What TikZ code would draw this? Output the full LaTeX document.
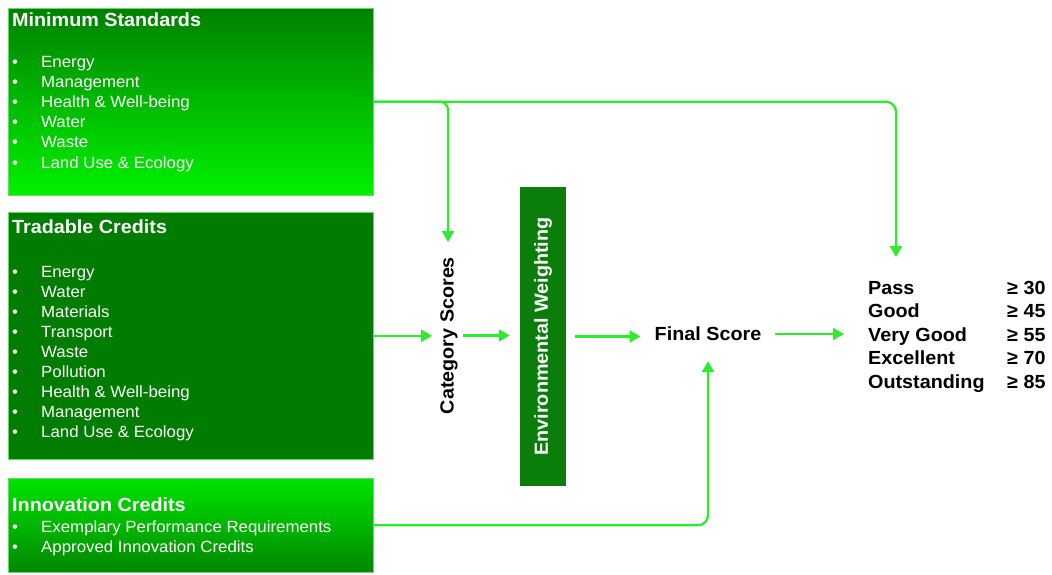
\documentclass[tikz,border=0pt]{standalone}
\usepackage{fontspec}
\setmainfont{Liberation Sans}[FakeStretch=1.04]
\usetikzlibrary{arrows.meta}
\definecolor{boxdark}{RGB}{0,125,0}
\definecolor{boxtop}{RGB}{0,128,0}
\definecolor{boxbright}{RGB}{0,242,0}
\definecolor{innotop}{RGB}{0,228,0}
\definecolor{innobot}{RGB}{0,135,0}
\definecolor{weightbox}{RGB}{10,125,10}
\definecolor{paneledge}{RGB}{100,220,100}
\definecolor{flow}{RGB}{45,235,45}
\begin{document}
\begin{tikzpicture}[x=1pt,y=-1pt,
  panel/.style={rectangle, inner sep=0pt, anchor=north west, minimum width=365pt,
    draw=paneledge, line width=0.6pt},
  paneltitle/.style={anchor=base west, inner sep=0pt, text=white,
    font=\fontsize{19}{22}\selectfont\bfseries},
  bulletitem/.style={anchor=base west, inner sep=0pt, text=white,
    font=\fontsize{16.2}{20}\selectfont},
  boldlabel/.style={inner sep=0pt, font=\fontsize{19}{22}\selectfont\bfseries},
  flowarrow/.style={draw=flow, line width=2.3pt, -{Triangle[width=12pt,length=11pt]}},
  bendarrow/.style={flowarrow, rounded corners=10pt}]
\useasboundingbox (0,0) rectangle (1052,575);

% input panels
\node[panel, minimum height=187pt, top color=boxtop, bottom color=boxbright] (ms) at (8,8) {};
\node[panel, minimum height=247pt, fill=boxdark] (tc) at (8,212) {};
\node[panel, minimum height=94pt, top color=innotop, bottom color=innobot] (ic) at (8,478) {};

\node[paneltitle] (ms title) at (12,27) {Minimum Standards};
\foreach \txt [count=\i] in {Energy, Management, Health \& Well-being, Water, Waste, Land Use \& Ecology}
  \node[bulletitem] (ms item \i) at (12,48+20*\i) {\makebox[29pt][l]{\textbullet}\txt};

\node[paneltitle] (tc title) at (12,233) {Tradable Credits};
\foreach \txt [count=\i] in {Energy, Water, Materials, Transport, Waste, Pollution,
    Health \& Well-being, Management, Land Use \& Ecology}
  \node[bulletitem] (tc item \i) at (12,257+20*\i) {\makebox[29pt][l]{\textbullet}\txt};

\node[paneltitle] (ic title) at (12,511) {Innovation Credits};
\foreach \txt [count=\i] in {Exemplary Performance Requirements, Approved Innovation Credits}
  \node[bulletitem] (ic item \i) at (12,512+20*\i) {\makebox[29pt][l]{\textbullet}\txt};

% scoring chain
\node[boldlabel, rotate=90] (cat) at (449,335.5) {Category Scores};
\node[boldlabel, rotate=90, fill=weightbox, text=white, minimum width=299pt,
  minimum height=46pt] (ew) at (543,336.5) {Environmental Weighting};
\node[boldlabel, inner xsep=14pt, inner ysep=20pt] (final) at (708,334) {Final Score};

\foreach \g/\v [count=\i] in {Pass/30, Good/45, Very Good/55, Excellent/70, Outstanding/85} {
  \node[boldlabel, anchor=base west] (grade \i) at (868,270.5+23.5*\i) {\g};
  \node[boldlabel, anchor=base west] (threshold \i) at (1007,270.5+23.5*\i) {≥ \v};
}

\coordinate (cat in) at (448,242);
\coordinate (pass in) at (896,257);

% connectors
\draw[bendarrow] (ms.east) -| (pass in);
\draw[bendarrow, rounded corners=8pt] (ms.east) -| (cat in);
\draw[flowarrow, shorten >=8pt] (tc.east) -- (tc.east -| cat.north);
\draw[flowarrow, shorten <=5pt, shorten >=10pt] (cat.south) -- (cat.south -| ew.north);
\draw[flowarrow, shorten <=9pt] (ew.south) -- (ew.south -| final.west);
\draw[flowarrow, shorten >=24pt] (final.east) -- (final.east -| grade 3.west);
\draw[bendarrow] (ic.east) -| (final.south);
\end{tikzpicture}
\end{document}
